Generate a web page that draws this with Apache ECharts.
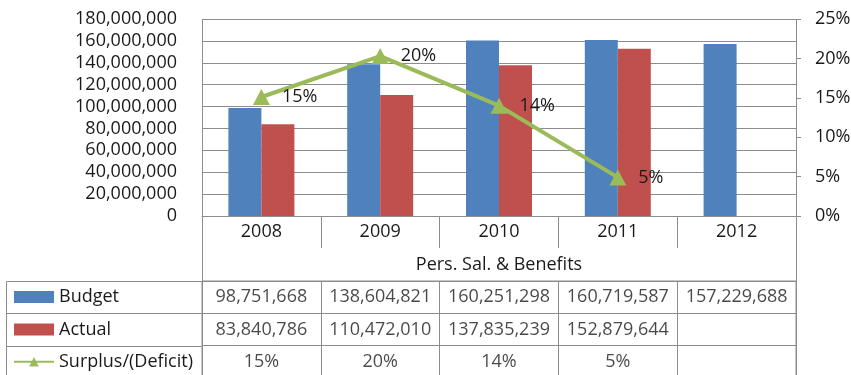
<!DOCTYPE html>
<html><head><meta charset="utf-8">
<script src="https://cdn.jsdelivr.net/npm/echarts@6/dist/echarts.min.js"></script>
<style>html,body{margin:0;padding:0;background:#fff}#c{width:851px;height:375px}</style>
</head><body><div id="c"></div>
<script>
// ---- data ----
const categories = ['2008', '2009', '2010', '2011', '2012'];
const budget = [98751668, 138604821, 160251298, 160719587, 157229688];
const actual = [83840786, 110472010, 137835239, 152879644, null];
const surplus = [0.151, 0.203, 0.140, 0.049, null];
const rowNames = ['Budget', 'Actual', 'Surplus/(Deficit)'];
const axisTitle = 'Pers. Sal. & Benefits';
const leftAxis = { min: 0, max: 180000000, interval: 20000000 };
const rightAxis = { min: 0, max: 0.25, interval: 0.05 };

// ---- layout / style ----
const W = 851;
const L = 202, R = 796, T = 19, B = 216, TT = 281, TB = 378, LL = 6;
const FONT = 'Open Sans';
const FS = 18;
const GRID = '#8c8c8c';
const TXT = '#1a1a1a';
const C_BUD = '#4F81BD', C_ACT = '#C0504D', C_SUR = '#9BBB59';

const fmtNum = v => v == null ? '' : v.toLocaleString('en-US');
const fmtPct = v => v == null ? '' : Math.round(v * 100) + '%';

const cells = [];
categories.forEach((c, i) => {
  if (budget[i] != null) cells.push({ value: [i, 0], text: fmtNum(budget[i]) });
  if (actual[i] != null) cells.push({ value: [i, 1], text: fmtNum(actual[i]) });
  if (surplus[i] != null) cells.push({ value: [i, 2], text: fmtPct(surplus[i]) });
});

const rowH = (TB - TT) / 3;
const h = x => Math.round(x) + 0.5;
const lineEl = (x1, y1, x2, y2) => ({
  type: 'line', silent: true, z: 10,
  shape: { x1: h(x1), y1: h(y1), x2: h(x2), y2: h(y2) },
  style: { stroke: GRID, lineWidth: 1 }
});
const graphics = [
  lineEl(L, T, L, TB),
  lineEl(R, T, R, TB),
  lineEl(LL, TT, L, TT),
  lineEl(LL, TT + rowH, L, TT + rowH),
  lineEl(LL, TT + 2 * rowH, L, TT + 2 * rowH),
  lineEl(LL, TT, LL, TB)
];

const txt = { fontFamily: FONT, fontSize: FS, color: TXT };

const chart = echarts.init(document.getElementById('c'), null, { renderer: 'canvas' });
chart.setOption({
  animation: false,
  backgroundColor: '#fff',
  textStyle: { fontFamily: FONT },
  grid: [
    { left: L, right: W - R, top: T, height: B - T, outerBoundsMode: 'none', containLabel: false },
    { left: L, right: W - R, top: TT, height: TB - TT, outerBoundsMode: 'none', containLabel: false,
      show: true, borderColor: GRID, borderWidth: 1, backgroundColor: 'transparent' }
  ],
  legend: {
    orient: 'vertical', left: 13, top: 287, padding: 0, itemWidth: 40, itemHeight: 12, itemGap: 12.4,
    selectedMode: false,
    textStyle: Object.assign({ lineHeight: 20 }, txt),
    data: [{ name: rowNames[0], icon: 'rect' }, { name: rowNames[1], icon: 'rect' }, { name: rowNames[2] }]
  },
  xAxis: [
    {
      gridIndex: 0, type: 'category', data: categories,
      axisLine: { show: true, lineStyle: { color: GRID } },
      axisTick: { show: true, length: 32, interval: 0, lineStyle: { color: GRID } },
      axisLabel: Object.assign({ margin: 7, lineHeight: 18 }, txt),
      name: axisTitle, nameLocation: 'middle', nameGap: 40,
      nameTextStyle: Object.assign({ lineHeight: 18 }, txt)
    },
    {
      gridIndex: 1, type: 'category', data: categories,
      axisLine: { show: false }, axisTick: { show: false }, axisLabel: { show: false },
      splitLine: { show: true, interval: 0, lineStyle: { color: GRID } }
    }
  ],
  yAxis: [
    {
      gridIndex: 0, type: 'value', min: leftAxis.min, max: leftAxis.max, interval: leftAxis.interval,
      axisLine: { show: false }, axisTick: { show: false },
      axisLabel: Object.assign({ margin: 25, formatter: v => fmtNum(v) }, txt),
      splitLine: { show: true, lineStyle: { color: GRID } }
    },
    {
      gridIndex: 0, type: 'value', position: 'right', min: rightAxis.min, max: rightAxis.max, interval: rightAxis.interval,
      axisLine: { show: false }, axisTick: { show: true, length: 5, lineStyle: { color: GRID } },
      axisLabel: Object.assign({ margin: 19, formatter: v => Math.round(v * 100) + '%' }, txt),
      splitLine: { show: false }
    },
    {
      gridIndex: 1, type: 'category', data: rowNames, inverse: true,
      axisLine: { show: false }, axisTick: { show: false }, axisLabel: { show: false },
      splitLine: { show: true, interval: 0, lineStyle: { color: GRID } }
    }
  ],
  series: [
    { name: rowNames[0], type: 'bar', xAxisIndex: 0, yAxisIndex: 0, data: budget, barWidth: 33, barGap: '0%', itemStyle: { color: C_BUD } },
    { name: rowNames[1], type: 'bar', xAxisIndex: 0, yAxisIndex: 0, data: actual, barWidth: 33, barGap: '0%', itemStyle: { color: C_ACT } },
    {
      name: rowNames[2], type: 'line', xAxisIndex: 0, yAxisIndex: 1, data: surplus, z: 5,
      symbol: 'triangle', symbolSize: [17, 16], showSymbol: true,
      lineStyle: { color: C_SUR, width: 4 }, itemStyle: { color: C_SUR },
      label: Object.assign({ show: true, position: 'right', distance: 12, formatter: p => fmtPct(p.value) }, txt)
    },
    {
      name: 'cells', type: 'scatter', xAxisIndex: 1, yAxisIndex: 2, data: cells,
      symbolSize: 0, silent: true,
      label: Object.assign({ show: true, position: 'inside', formatter: p => p.data.text }, txt)
    }
  ],
  graphic: graphics
});
</script>
</body></html>
